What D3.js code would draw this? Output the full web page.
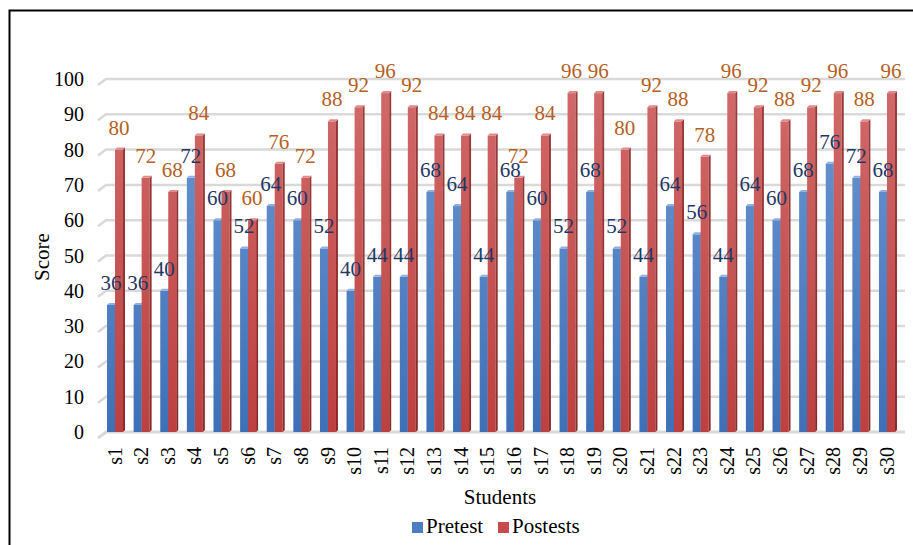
<!DOCTYPE html>
<html><head><meta charset="utf-8">
<script src="https://cdn.jsdelivr.net/npm/d3@7"></script>
<style>body{margin:0;background:#fff}svg{display:block}</style>
</head><body><svg id="c" width="913" height="545"></svg>
<script>
const categories = d3.range(1,31).map(i=>"s"+i);
const pretest  = [36,36,40,72,60,52,64,60,52,40,44,44,68,64,44,68,60,52,68,52,44,64,56,44,64,60,68,76,72,68];
const posttest = [80,72,68,84,68,60,76,72,88,92,96,92,84,84,84,72,84,96,96,80,92,88,78,96,92,88,92,96,88,96];
const yTicks = [0,10,20,30,40,50,60,70,80,90,100];
const seriesNames = ["Pretest","Postests"];
const FONT = "'Liberation Serif', monospace";

const svg = d3.select("#c");
const defs = svg.append("defs");
function grad(id, c1, c2){
  const g = defs.append("linearGradient").attr("id",id).attr("gradientUnits","userSpaceOnUse")
    .attr("x1",0).attr("y1",79).attr("x2",0).attr("y2",432);
  g.append("stop").attr("offset","0").attr("stop-color",c1);
  g.append("stop").attr("offset","1").attr("stop-color",c2);
}
grad("gb","#6f98d3","#3e70b7");
grad("gr","#d26a6a","#bd4040");
grad("gbs","#3d5f93","#2a4d83");
grad("grs","#9a3c3b","#8a2a29");

// frame
svg.append("path").attr("d","M9.5,545 L9.5,10.5 L913,10.5").attr("fill","none").attr("stroke","#000").attr("stroke-width",2);

const y = d3.scaleLinear().domain([0,100]).range([432,79]);
const x = d3.scaleBand().domain(categories).range([101.7,900.3]);

// gridlines
svg.append("g").selectAll("path").data(yTicks).join("path")
  .attr("d",v=>`M98,${y(v)+6} L106,${y(v)} L905,${y(v)}`)
  .attr("fill","none").attr("stroke","#d9d9d9").attr("stroke-width",v=>v===0?3:2.5);

// y axis labels
svg.append("g").selectAll("text").data(yTicks).join("text")
  .attr("x",84).attr("y",v=>y(v)).attr("dy","0.35em").attr("text-anchor","end")
  .attr("font-size",20).attr("fill","#000").style("font-family",FONT).text(v=>v);

svg.append("text").attr("transform","translate(49,257) rotate(-90)").attr("text-anchor","middle")
  .attr("font-size",21).style("font-family",FONT).text("Score");

const bw = 8, dep = 2;
function bar3d(g, x0, v, front, side, cap){
  const top = y(v), bot = y(0);
  g.append("rect").attr("x",x0).attr("y",top).attr("width",bw).attr("height",bot-top).attr("fill",front);
  g.append("path").attr("d",`M${x0+bw},${top} L${x0+bw+dep},${top-dep} L${x0+bw+dep},${bot-dep} L${x0+bw},${bot}Z`).attr("fill",side);
  g.append("path").attr("d",`M${x0},${top} L${x0+dep},${top-dep} L${x0+bw+dep},${top-dep} L${x0+bw},${top}Z`).attr("fill",cap);
}
const bars = svg.append("g");
categories.forEach((c,i)=>{
  const cx = x(c)+x.bandwidth()/2;
  bar3d(bars, cx-bw, pretest[i], "url(#gb)", "url(#gbs)", "#8fb0e0");
  bar3d(bars, cx, posttest[i], "url(#gr)", "url(#grs)", "#e08a8a");
});

// data labels
const lab = svg.append("g");
lab.selectAll("text.pre").data(categories).join("text").attr("class","pre")
  .attr("x",(c)=>x(c)+x.bandwidth()/2-bw/2).attr("y",(c,i)=>y(pretest[i])-15)
  .attr("text-anchor","middle").attr("fill","#1f3864").attr("font-size",21).style("font-family",FONT).text((c,i)=>pretest[i]);
lab.selectAll("text.post").data(categories).join("text").attr("class","post")
  .attr("x",(c)=>x(c)+x.bandwidth()/2+bw/2).attr("y",(c,i)=>y(posttest[i])-15)
  .attr("text-anchor","middle").attr("fill","#b5601f").attr("font-size",21).style("font-family",FONT).text((c,i)=>posttest[i]);

// x labels
svg.append("g").selectAll("text").data(categories).join("text")
  .attr("transform",c=>`translate(${x(c)+x.bandwidth()/2},447) rotate(-90)`)
  .attr("dy","0.33em").attr("text-anchor","end").attr("font-size",20).style("font-family",FONT).text(c=>c);

svg.append("text").attr("x",500).attr("y",504).attr("text-anchor","middle").attr("font-size",21).style("font-family",FONT).text("Students");

// legend
const colors = ["#4a7dc2","#c84b4b"];
const lx = [412,498];
const lg = svg.append("g");
seriesNames.forEach((n,i)=>{
  lg.append("rect").attr("x",lx[i]).attr("y",522).attr("width",11).attr("height",11).attr("fill",colors[i]);
  lg.append("text").attr("x",lx[i]+14).attr("y",533).attr("font-size",21).style("font-family",FONT).text(n);
});
</script></body></html>
